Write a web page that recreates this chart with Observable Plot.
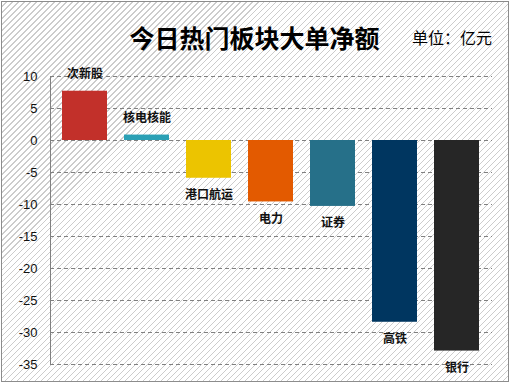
<!DOCTYPE html>
<html>
<head>
<meta charset="utf-8">
<script src="https://cdn.jsdelivr.net/npm/d3@7"></script>
<script src="https://cdn.jsdelivr.net/npm/@observablehq/plot@0.6"></script>
<style>
  html, body { margin: 0; padding: 0; background: #fff; }
  #wrap { position: relative; width: 511px; height: 384px; overflow: hidden; background: #fff; }
  #frame {
    position: absolute; left: 1px; top: 1px; width: 508px; height: 381px; box-sizing: border-box;
    border: 1px solid #8c8c8c;
    background: repeating-linear-gradient(-45deg, #ffffff 0px, #ffffff 3.1px, #cccccc 3.1px, #cccccc 4.24px);
  }
  #title {
    position: absolute; left: 0; width: 509px; top: 22px; line-height: 30px; text-align: center;
    font-family: "Noto Sans CJK SC", sans-serif; font-weight: bold; font-size: 25px; color: #000;
  }
  #unit {
    position: absolute; left: 412px; top: 27px; line-height: 20px;
    font-family: "Noto Sans CJK SC", sans-serif; font-size: 16px; color: #000;
  }
  #chart { position: absolute; left: 0; top: 52px; }
</style>
</head>
<body>
<div id="wrap">
  <div id="frame"></div>
  <div id="title">今日热门板块大单净额</div>
  <div id="unit">单位：亿元</div>
  <div id="chart"></div>
</div>
<script>
const categories = ["次新股", "核电核能", "港口航运", "电力", "证券", "高铁", "银行"];
const values = [7.7, 0.85, -5.9, -9.6, -10.3, -28.4, -32.9];
const palette = ["#c2302a", "#2aa0b5", "#ecc400", "#e35a00", "#267089", "#003660", "#262626"];
const yTicks = [10, 5, 0, -5, -10, -15, -20, -25, -30, -35];

const data = categories.map((name, i) => ({name, value: values[i], color: palette[i]}));

const chart = Plot.plot({
  width: 511,
  height: 332,
  marginLeft: 50,
  marginRight: 19,
  marginTop: 24,
  marginBottom: 20,
  style: {background: "transparent", overflow: "visible", fontFamily: "Liberation Sans, sans-serif"},
  x: {domain: categories, range: [44.5, 496.7], paddingInner: 0.27, paddingOuter: 0.27, axis: null},
  y: {domain: [-35, 10], ticks: yTicks, tickFormat: d => String(d), tickSize: 0, tickPadding: 13, label: null},
  marks: [
    Plot.ruleY(yTicks, {stroke: "#808080", strokeWidth: 1, strokeDasharray: "4,3"}),
    Plot.frame({anchor: "left", stroke: "#808080"}),
    Plot.barY(data, {x: "name", y: "value", fill: "color"}),
    Plot.text(data, {filter: d => d.value >= 0, x: "name", y: "value", text: "name", dy: -17,
      fontSize: 12, fontWeight: "bold", fill: "#111", fontFamily: "Noto Sans CJK SC"}),
    Plot.text(data, {filter: d => d.value < 0, x: "name", y: "value", text: "name", dy: 17,
      fontSize: 12, fontWeight: "bold", fill: "#111", fontFamily: "Noto Sans CJK SC"}),
    Plot.axisY({ticks: yTicks, tickFormat: d => String(d), tickSize: 0, tickPadding: 13,
      fontSize: 13, fill: "#111", label: null})
  ]
});
document.getElementById("chart").appendChild(chart);
</script>
</body>
</html>
